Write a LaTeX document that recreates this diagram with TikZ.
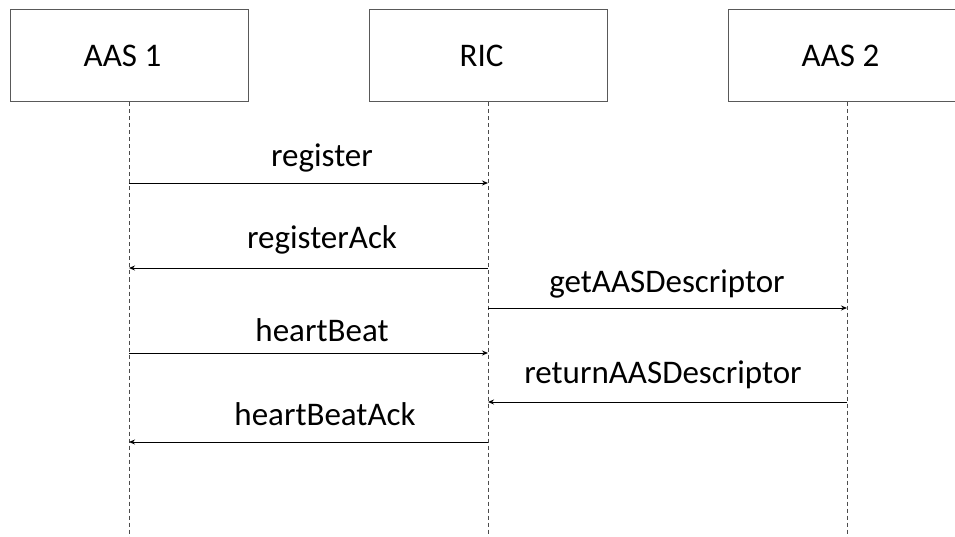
\documentclass[tikz,border=0pt]{standalone}
\usepackage{fontspec}
\setmainfont{Carlito}
\usepackage{tikz}
\usetikzlibrary{arrows.meta}

\tikzset{
  party/.style={draw=black!65,line width=1pt,minimum width=238pt,minimum height=92pt,
    inner sep=0pt,font=\fontsize{33}{38}\selectfont,execute at begin node={\kern-13pt}},
  lifeline/.style={draw=black!70,line width=0.8pt,dash pattern=on 4pt off 3pt},
  msg/.style={line width=0.9pt,-{Stealth[length=6pt,width=5pt]}},
  msgtext/.style={anchor=base,inner sep=0pt,font=\fontsize{33}{38}\selectfont}
}

\begin{document}
\begin{tikzpicture}[x=1pt,y=-1pt]
\useasboundingbox (0,0) rectangle (955,537);

\node[party] (aas1) at (129,56) {AAS 1};
\node[party] (ric) at (488,56) {RIC};
\node[party] (aas2) at (847,56) {AAS 2};

% lifelines
\foreach \p in {aas1,ric,aas2}{
  \coordinate (\p-end) at (\p.south |- 0,537);
  \draw[lifeline] (\p.south) -- (\p-end);
  \foreach \m/\y in {reg/183,regack/268,get/308,hb/353,ret/402,hback/442}
    \coordinate (\p-\m) at (\p.south |- 0,\y);
}

% messages
\draw[msg] (aas1-reg) -- (ric-reg);
\draw[msg] (ric-regack) -- (aas1-regack);
\draw[msg] (ric-get) -- (aas2-get);
\draw[msg] (aas1-hb) -- (ric-hb);
\draw[msg] (aas2-ret) -- (ric-ret);
\draw[msg] (ric-hback) -- (aas1-hback);

\node[msgtext] (reg) at (322,167) {register};
\node[msgtext] (regack) at (322,249) {registerAck};
\node[msgtext] (get) at (667,292) {getAASDescriptor};
\node[msgtext] (hb) at (322,341) {heartBeat};
\node[msgtext] (ret) at (663,383) {returnAASDescriptor};
\node[msgtext] (hback) at (325,425) {heartBeatAck};
\end{tikzpicture}
\end{document}
